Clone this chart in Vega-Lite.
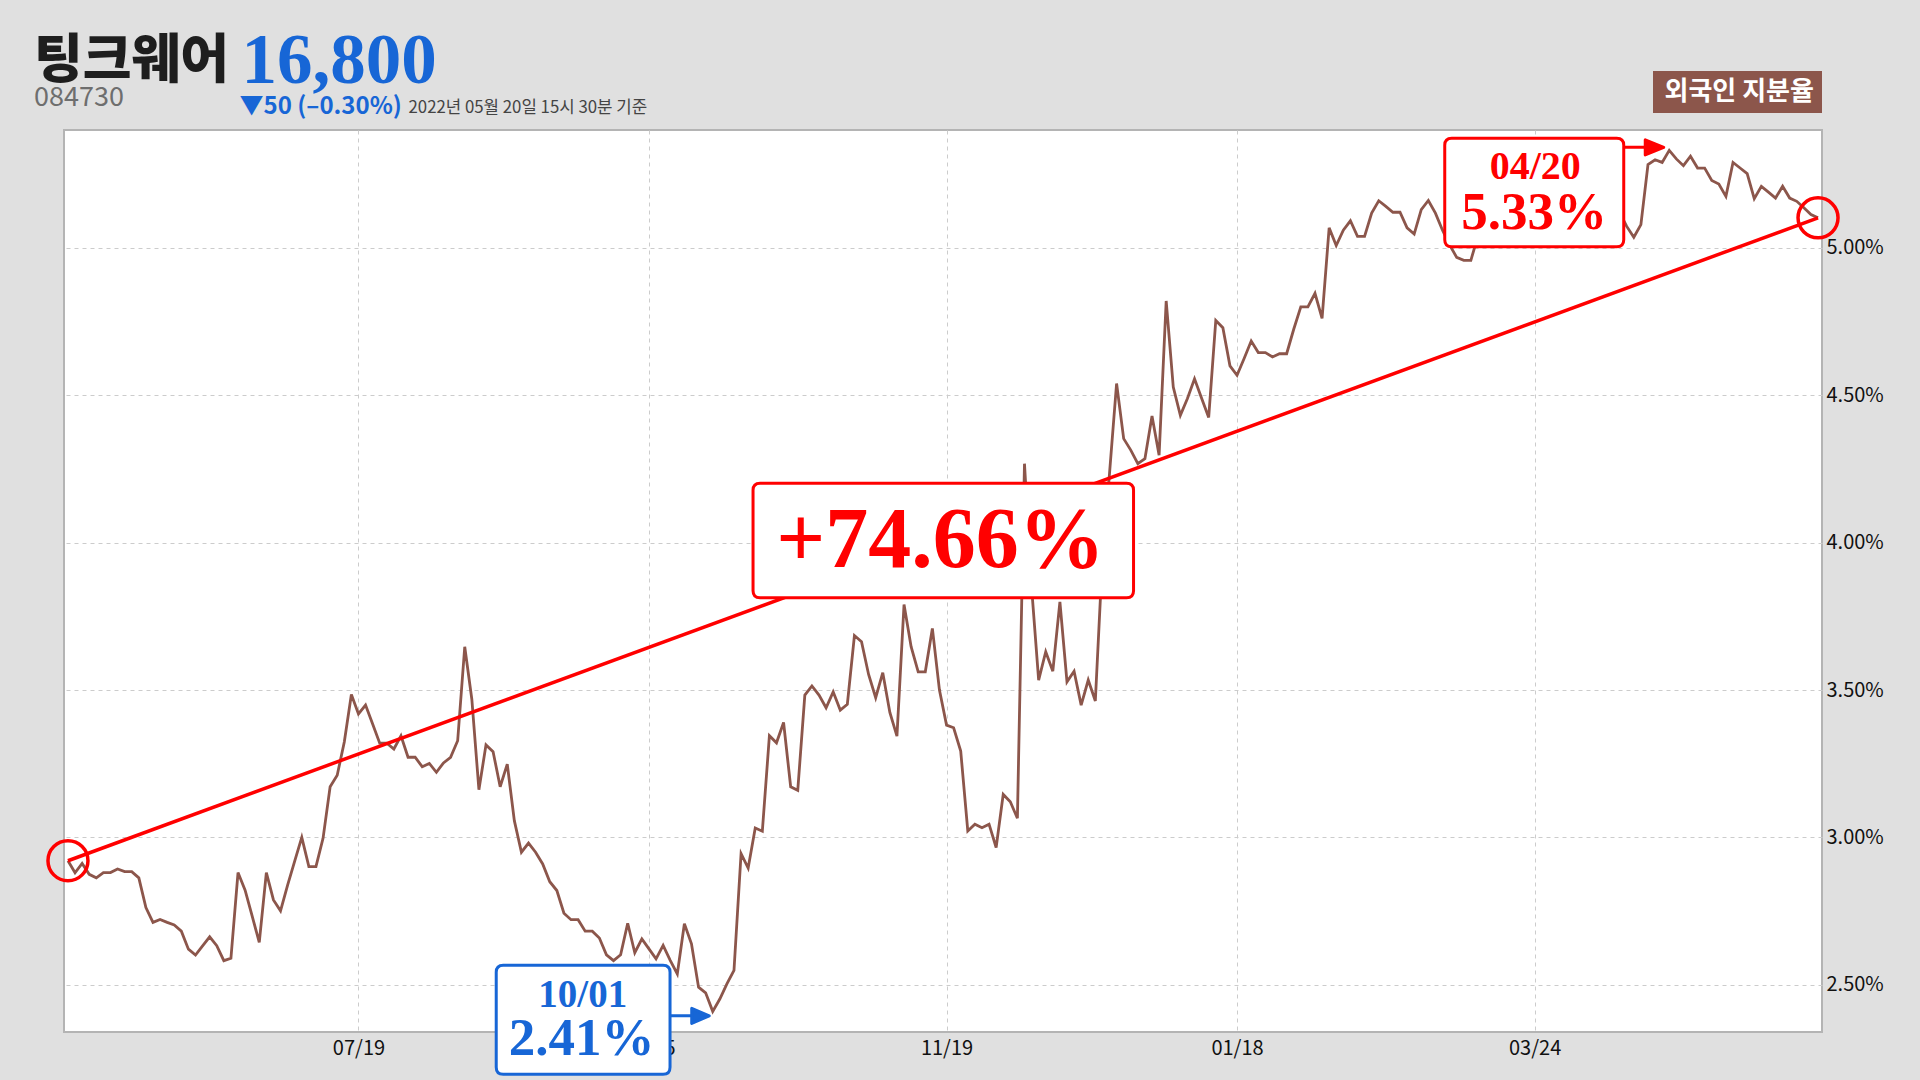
{
  "$schema": "https://vega.github.io/schema/vega-lite/v6.json",
  "width": 1758,
  "height": 902,
  "autosize": {"type": "none"},
  "padding": {"left": 64, "top": 130, "right": 98, "bottom": 48},
  "background": "#e0e0e0",
  "config": {"view": {"fill": "white", "stroke": "#b4b4b4", "strokeWidth": 2}},
  "title": {
    "text": "팅크웨어",
    "subtitle": "084730",
    "anchor": "start",
    "frame": "group",
    "orient": "top",
    "offset": 22,
    "dx": -30,
    "dy": 108,
    "font": "Noto Sans CJK KR",
    "fontSize": 53,
    "fontWeight": 900,
    "color": "#1e1e1e",
    "subtitleFont": "Noto Sans CJK KR",
    "subtitleFontSize": 27,
    "subtitleColor": "#6e6e6e",
    "subtitlePadding": -4
  },
  "datasets": {
    "fo": [
      {"d":"2021-05-21","v":2.921},{"d":"2021-05-24","v":2.880},{"d":"2021-05-25","v":2.912},{"d":"2021-05-26","v":2.875},{"d":"2021-05-27","v":2.863},{"d":"2021-05-28","v":2.881},{"d":"2021-05-31","v":2.881},
      {"d":"2021-06-01","v":2.893},{"d":"2021-06-02","v":2.884},{"d":"2021-06-03","v":2.884},{"d":"2021-06-04","v":2.863},{"d":"2021-06-07","v":2.762},{"d":"2021-06-08","v":2.712},{"d":"2021-06-09","v":2.722},{"d":"2021-06-10","v":2.712},{"d":"2021-06-11","v":2.703},{"d":"2021-06-14","v":2.682},{"d":"2021-06-15","v":2.621},{"d":"2021-06-16","v":2.601},{"d":"2021-06-17","v":2.632},{"d":"2021-06-18","v":2.663},{"d":"2021-06-21","v":2.633},{"d":"2021-06-22","v":2.582},{"d":"2021-06-23","v":2.590},{"d":"2021-06-24","v":2.881},{"d":"2021-06-25","v":2.821},{"d":"2021-06-28","v":2.733},{"d":"2021-06-29","v":2.644},{"d":"2021-06-30","v":2.881},
      {"d":"2021-07-01","v":2.788},{"d":"2021-07-02","v":2.751},{"d":"2021-07-05","v":2.838},{"d":"2021-07-06","v":2.920},{"d":"2021-07-07","v":3.000},{"d":"2021-07-08","v":2.901},{"d":"2021-07-09","v":2.901},{"d":"2021-07-12","v":2.997},{"d":"2021-07-13","v":3.172},{"d":"2021-07-14","v":3.211},{"d":"2021-07-15","v":3.324},{"d":"2021-07-16","v":3.485},{"d":"2021-07-19","v":3.419},{"d":"2021-07-20","v":3.449},{"d":"2021-07-21","v":3.385},{"d":"2021-07-22","v":3.320},{"d":"2021-07-23","v":3.320},{"d":"2021-07-26","v":3.300},{"d":"2021-07-27","v":3.345},{"d":"2021-07-28","v":3.272},{"d":"2021-07-29","v":3.272},{"d":"2021-07-30","v":3.240},
      {"d":"2021-08-02","v":3.251},{"d":"2021-08-03","v":3.221},{"d":"2021-08-04","v":3.253},{"d":"2021-08-05","v":3.272},{"d":"2021-08-06","v":3.328},{"d":"2021-08-09","v":3.647},{"d":"2021-08-10","v":3.469},{"d":"2021-08-11","v":3.162},{"d":"2021-08-12","v":3.314},{"d":"2021-08-13","v":3.291},{"d":"2021-08-17","v":3.172},{"d":"2021-08-18","v":3.249},{"d":"2021-08-19","v":3.057},{"d":"2021-08-20","v":2.950},{"d":"2021-08-23","v":2.981},{"d":"2021-08-24","v":2.950},{"d":"2021-08-25","v":2.910},{"d":"2021-08-26","v":2.850},{"d":"2021-08-27","v":2.820},{"d":"2021-08-30","v":2.743},{"d":"2021-08-31","v":2.721},
      {"d":"2021-09-01","v":2.721},{"d":"2021-09-02","v":2.682},{"d":"2021-09-03","v":2.682},{"d":"2021-09-06","v":2.659},{"d":"2021-09-07","v":2.602},{"d":"2021-09-08","v":2.582},{"d":"2021-09-09","v":2.602},{"d":"2021-09-10","v":2.709},{"d":"2021-09-13","v":2.609},{"d":"2021-09-14","v":2.656},{"d":"2021-09-15","v":2.622},{"d":"2021-09-16","v":2.588},{"d":"2021-09-17","v":2.634},{"d":"2021-09-23","v":2.583},{"d":"2021-09-24","v":2.537},{"d":"2021-09-27","v":2.707},{"d":"2021-09-28","v":2.639},{"d":"2021-09-29","v":2.492},{"d":"2021-09-30","v":2.473},
      {"d":"2021-10-01","v":2.410},{"d":"2021-10-05","v":2.452},{"d":"2021-10-06","v":2.503},{"d":"2021-10-07","v":2.549},{"d":"2021-10-08","v":2.945},{"d":"2021-10-12","v":2.896},{"d":"2021-10-13","v":3.032},{"d":"2021-10-14","v":3.021},{"d":"2021-10-15","v":3.345},{"d":"2021-10-18","v":3.321},{"d":"2021-10-19","v":3.390},{"d":"2021-10-20","v":3.172},{"d":"2021-10-21","v":3.160},{"d":"2021-10-22","v":3.483},{"d":"2021-10-25","v":3.514},{"d":"2021-10-26","v":3.483},{"d":"2021-10-27","v":3.440},{"d":"2021-10-28","v":3.494},{"d":"2021-10-29","v":3.432},
      {"d":"2021-11-01","v":3.452},{"d":"2021-11-02","v":3.685},{"d":"2021-11-03","v":3.664},{"d":"2021-11-04","v":3.553},{"d":"2021-11-05","v":3.474},{"d":"2021-11-08","v":3.559},{"d":"2021-11-09","v":3.424},{"d":"2021-11-10","v":3.344},{"d":"2021-11-11","v":3.790},{"d":"2021-11-12","v":3.647},{"d":"2021-11-15","v":3.562},{"d":"2021-11-16","v":3.562},{"d":"2021-11-17","v":3.709},{"d":"2021-11-18","v":3.500},{"d":"2021-11-19","v":3.381},{"d":"2021-11-22","v":3.372},{"d":"2021-11-23","v":3.293},{"d":"2021-11-24","v":3.022},{"d":"2021-11-25","v":3.045},{"d":"2021-11-26","v":3.033},{"d":"2021-11-29","v":3.045},{"d":"2021-11-30","v":2.966},
      {"d":"2021-12-01","v":3.146},{"d":"2021-12-02","v":3.121},{"d":"2021-12-03","v":3.065},{"d":"2021-12-06","v":4.268},{"d":"2021-12-07","v":3.850},{"d":"2021-12-08","v":3.534},{"d":"2021-12-09","v":3.630},{"d":"2021-12-10","v":3.564},{"d":"2021-12-13","v":3.799},{"d":"2021-12-14","v":3.528},{"d":"2021-12-15","v":3.564},{"d":"2021-12-16","v":3.449},{"d":"2021-12-17","v":3.534},{"d":"2021-12-20","v":3.463},{"d":"2021-12-21","v":3.950},{"d":"2021-12-22","v":4.234},{"d":"2021-12-23","v":4.540},{"d":"2021-12-24","v":4.353},{"d":"2021-12-27","v":4.314},{"d":"2021-12-28","v":4.268},{"d":"2021-12-29","v":4.285},{"d":"2021-12-30","v":4.430},
      {"d":"2022-01-03","v":4.297},{"d":"2022-01-04","v":4.820},{"d":"2022-01-05","v":4.528},{"d":"2022-01-06","v":4.432},{"d":"2022-01-07","v":4.489},{"d":"2022-01-10","v":4.556},{"d":"2022-01-11","v":4.490},{"d":"2022-01-12","v":4.425},{"d":"2022-01-13","v":4.754},{"d":"2022-01-14","v":4.729},{"d":"2022-01-17","v":4.600},{"d":"2022-01-18","v":4.568},{"d":"2022-01-19","v":4.625},{"d":"2022-01-20","v":4.684},{"d":"2022-01-21","v":4.645},{"d":"2022-01-24","v":4.645},{"d":"2022-01-25","v":4.630},{"d":"2022-01-26","v":4.641},{"d":"2022-01-27","v":4.641},{"d":"2022-01-28","v":4.724},
      {"d":"2022-02-03","v":4.800},{"d":"2022-02-04","v":4.800},{"d":"2022-02-07","v":4.846},{"d":"2022-02-08","v":4.761},{"d":"2022-02-09","v":5.068},{"d":"2022-02-10","v":5.008},{"d":"2022-02-11","v":5.060},{"d":"2022-02-14","v":5.092},{"d":"2022-02-15","v":5.039},{"d":"2022-02-16","v":5.039},{"d":"2022-02-17","v":5.118},{"d":"2022-02-18","v":5.160},{"d":"2022-02-21","v":5.141},{"d":"2022-02-22","v":5.121},{"d":"2022-02-23","v":5.121},{"d":"2022-02-24","v":5.068},{"d":"2022-02-25","v":5.047},{"d":"2022-02-28","v":5.130},
      {"d":"2022-03-02","v":5.161},{"d":"2022-03-03","v":5.118},{"d":"2022-03-04","v":5.060},{"d":"2022-03-07","v":5.010},{"d":"2022-03-08","v":4.968},{"d":"2022-03-10","v":4.958},{"d":"2022-03-11","v":4.958},{"d":"2022-03-14","v":5.040},{"d":"2022-03-15","v":5.100},{"d":"2022-03-16","v":5.140},{"d":"2022-03-17","v":5.120},{"d":"2022-03-18","v":5.180},{"d":"2022-03-21","v":5.150},{"d":"2022-03-22","v":5.200},{"d":"2022-03-23","v":5.170},{"d":"2022-03-24","v":5.130},{"d":"2022-03-25","v":5.160},{"d":"2022-03-28","v":5.190},{"d":"2022-03-29","v":5.220},{"d":"2022-03-30","v":5.180},{"d":"2022-03-31","v":5.150},
      {"d":"2022-04-01","v":5.120},{"d":"2022-04-04","v":5.160},{"d":"2022-04-05","v":5.140},{"d":"2022-04-06","v":5.100},{"d":"2022-04-07","v":5.130},{"d":"2022-04-08","v":5.150},{"d":"2022-04-11","v":5.120},{"d":"2022-04-12","v":5.073},{"d":"2022-04-13","v":5.036},{"d":"2022-04-14","v":5.079},{"d":"2022-04-15","v":5.283},{"d":"2022-04-18","v":5.299},{"d":"2022-04-19","v":5.290},{"d":"2022-04-20","v":5.331},{"d":"2022-04-21","v":5.302},{"d":"2022-04-22","v":5.279},{"d":"2022-04-25","v":5.311},{"d":"2022-04-26","v":5.271},{"d":"2022-04-27","v":5.271},{"d":"2022-04-28","v":5.229},{"d":"2022-04-29","v":5.217},
      {"d":"2022-05-02","v":5.175},{"d":"2022-05-03","v":5.290},{"d":"2022-05-04","v":5.271},{"d":"2022-05-06","v":5.252},{"d":"2022-05-09","v":5.167},{"d":"2022-05-10","v":5.209},{"d":"2022-05-11","v":5.189},{"d":"2022-05-12","v":5.169},{"d":"2022-05-13","v":5.209},{"d":"2022-05-16","v":5.169},{"d":"2022-05-17","v":5.158},{"d":"2022-05-18","v":5.136},{"d":"2022-05-19","v":5.113},{"d":"2022-05-20","v":5.102}
    ],
    "ann": [
      {"kind":"chg","d":"2021-11-19","v":4.0,"label":"+74.66%"},
      {"kind":"max","d":"2022-04-20","v":5.331,"label":"5.33%","date":"04/20"},
      {"kind":"min","d":"2021-10-01","v":2.41,"label":"2.41%","date":"10/01"}
    ]
  },
  "resolve": {"axis": {"x": "independent", "y": "independent"}, "scale": {"shape": "independent", "fill": "independent", "stroke": "independent"}},
  "layer": [
    {
      "data": {"name": "fo"},
      "mark": {"type": "line", "strokeWidth": 2.8},
      "encoding": {
        "x": {
          "field": "d", "type": "ordinal",
          "scale": {"type": "point", "padding": 0.56},
          "axis": {
            "orient": "bottom",
            "values": ["2021-07-19","2021-09-15","2021-11-19","2022-01-18","2022-03-24"],
            "labelExpr": "substring(datum.value,5,7)+'/'+substring(datum.value,8,10)",
            "labelAngle": 0, "labelFont": "Noto Sans CJK KR", "labelFontSize": 20, "labelColor": "#111111", "labelPadding": 6,
            "ticks": false, "domain": false,
            "grid": true, "gridColor": "#cccccc", "gridDash": [4, 4], "gridWidth": 1,
            "title": "16,800", "titleX": 177, "titleY": -950, "titleAlign": "left", "titleBaseline": "alphabetic", "titleAngle": 0,
            "titleFont": "Liberation Serif", "titleFontSize": 71, "titleFontWeight": "bold", "titleColor": "#1766d6"
          }
        },
        "y": {
          "field": "v", "type": "quantitative",
          "scale": {"domain": [2.34, 5.40], "nice": false, "zero": false},
          "axis": {
            "orient": "right",
            "values": [2.5, 3, 3.5, 4, 4.5, 5],
            "labelExpr": "format(datum.value,'.2f')+'%'",
            "labelFont": "Noto Sans CJK KR", "labelFontSize": 20, "labelColor": "#111111", "labelPadding": 4,
            "ticks": false, "domain": false,
            "grid": true, "gridColor": "#cccccc", "gridDash": [4, 4], "gridWidth": 1,
            "title": "▼50 (–0.30%)", "titleX": -1583, "titleY": -17, "titleAngle": 0, "titleAlign": "left", "titleBaseline": "alphabetic",
            "titleFont": "Noto Sans CJK KR", "titleFontSize": 24, "titleFontWeight": "bold", "titleColor": "#1766d6"
          }
        },
        "color": {
          "datum": "외국인 지분율", "type": "nominal",
          "scale": {"range": ["#8c564b"]},
          "legend": {
            "title": null, "orient": "none", "legendX": 1589, "legendY": -59,
            "fillColor": "#8c564b", "padding": 8, "cornerRadius": 0,
            "labelColor": "white", "labelFont": "Noto Sans CJK KR", "labelFontSize": 26, "labelFontWeight": "bold",
            "labelOffset": -22.5, "labelLimit": 400, "symbolSize": 0, "symbolStrokeWidth": 0, "symbolOpacity": 0
          }
        }
      }
    },
    {
      "data": {"name": "fo"},
      "transform": [{"filter": {"field": "d", "oneOf": ["2021-05-21", "2022-05-20"]}}],
      "mark": {"type": "line", "color": "#ff0000", "strokeWidth": 3.5},
      "encoding": {
        "x": {
          "field": "d", "type": "ordinal",
          "axis": {
            "orient": "top", "labels": false, "ticks": false, "domain": false, "grid": false,
            "title": "2022년 05월 20일 15시 30분 기준", "titleX": 344, "titleY": -18, "titleAlign": "left", "titleBaseline": "alphabetic", "titleAngle": 0,
            "titleFont": "Noto Sans CJK KR", "titleFontSize": 16.8, "titleFontWeight": "normal", "titleColor": "#444444"
          }
        },
        "y": {"field": "v", "type": "quantitative", "axis": null}
      }
    },
    {
      "data": {"name": "fo"},
      "transform": [{"filter": {"field": "d", "oneOf": ["2021-05-21", "2022-05-20"]}}],
      "mark": {"type": "point", "shape": "circle", "size": 1600, "filled": false, "stroke": "#ff0000", "strokeWidth": 3.5, "opacity": 1},
      "encoding": {
        "x": {"field": "d", "type": "ordinal", "axis": null},
        "y": {"field": "v", "type": "quantitative", "axis": null}
      }
    },
    {
      "data": {"name": "ann"},
      "mark": {"type": "point", "size": 4, "filled": true, "fill": "white", "strokeWidth": 3, "opacity": 1},
      "encoding": {
        "x": {"field": "d", "type": "ordinal", "axis": null},
        "y": {"field": "v", "type": "quantitative", "axis": null},
        "shape": {
          "field": "kind", "type": "nominal", "legend": null,
          "scale": {
            "domain": ["chg", "max", "min"],
            "range": [
              "M-186.5,-59.5H180Q187,-59.5 187,-52.5V48Q187,55 180,55H-186.5Q-193.5,55 -193.5,48V-52.5Q-193.5,-59.5 -186.5,-59.5Z",
              "M-217.5,-12H-52.5Q-45.5,-12 -45.5,-5V89.5Q-45.5,96.5 -52.5,96.5H-217.5Q-224.5,96.5 -224.5,89.5V-5Q-224.5,-12 -217.5,-12Z",
              "M-209.5,-46H-49.7Q-42.7,-46 -42.7,-39V56Q-42.7,63 -49.7,63H-209.5Q-216.5,63 -216.5,56V-39Q-216.5,-46 -209.5,-46Z"
            ]
          }
        },
        "stroke": {
          "field": "kind", "type": "nominal", "legend": null,
          "scale": {"domain": ["chg", "max", "min"], "range": ["#ff0000", "#ff0000", "#1766d6"]}
        }
      }
    },
    {
      "data": {"name": "ann"},
      "transform": [{"filter": "datum.kind != 'chg'"}],
      "mark": {"type": "point", "size": 4, "filled": true, "strokeWidth": 3, "strokeJoin": "round", "opacity": 1},
      "encoding": {
        "x": {"field": "d", "type": "ordinal", "axis": null},
        "y": {"field": "v", "type": "quantitative", "axis": null},
        "shape": {
          "field": "kind", "type": "nominal", "legend": null,
          "scale": {
            "domain": ["max", "min"],
            "range": [
              "M-45.5,-3H-24M-24,-10.5L-5.5,-3L-24,4.5Z",
              "M-42.7,4.5H-21M-21,-3L-3.5,4.5L-21,12Z"
            ]
          }
        },
        "stroke": {
          "field": "kind", "type": "nominal", "legend": null,
          "scale": {"domain": ["max", "min"], "range": ["#ff0000", "#1766d6"]}
        },
        "fill": {
          "field": "kind", "type": "nominal", "legend": null,
          "scale": {"domain": ["max", "min"], "range": ["#ff0000", "#1766d6"]}
        }
      }
    },
    {
      "data": {"name": "ann"},
      "transform": [{"filter": "datum.kind == 'chg'"}],
      "mark": {"type": "text", "align": "center", "baseline": "alphabetic", "dx": -6, "dy": 24, "font": "Liberation Serif", "fontSize": 86, "fontWeight": "bold", "color": "#ff0000"},
      "encoding": {
        "x": {"field": "d", "type": "ordinal", "axis": null},
        "y": {"field": "v", "type": "quantitative", "axis": null},
        "text": {"field": "label"}
      }
    },
    {
      "data": {"name": "ann"},
      "transform": [{"filter": "datum.kind == 'max'"}],
      "mark": {"type": "text", "align": "center", "baseline": "alphabetic", "dx": -134, "dy": 29, "font": "Liberation Serif", "fontSize": 40, "fontWeight": "bold", "color": "#ff0000"},
      "encoding": {
        "x": {"field": "d", "type": "ordinal", "axis": null},
        "y": {"field": "v", "type": "quantitative", "axis": null},
        "text": {"field": "date"}
      }
    },
    {
      "data": {"name": "ann"},
      "transform": [{"filter": "datum.kind == 'max'"}],
      "mark": {"type": "text", "align": "center", "baseline": "alphabetic", "dx": -135, "dy": 79, "font": "Liberation Serif", "fontSize": 53, "fontWeight": "bold", "color": "#ff0000"},
      "encoding": {
        "x": {"field": "d", "type": "ordinal", "axis": null},
        "y": {"field": "v", "type": "quantitative", "axis": null},
        "text": {"field": "label"}
      }
    },
    {
      "data": {"name": "ann"},
      "transform": [{"filter": "datum.kind == 'min'"}],
      "mark": {"type": "text", "align": "center", "baseline": "alphabetic", "dx": -130, "dy": -4.5, "font": "Liberation Serif", "fontSize": 39, "fontWeight": "bold", "color": "#1766d6"},
      "encoding": {
        "x": {"field": "d", "type": "ordinal", "axis": null},
        "y": {"field": "v", "type": "quantitative", "axis": null},
        "text": {"field": "date"}
      }
    },
    {
      "data": {"name": "ann"},
      "transform": [{"filter": "datum.kind == 'min'"}],
      "mark": {"type": "text", "align": "center", "baseline": "alphabetic", "dx": -131, "dy": 43.5, "font": "Liberation Serif", "fontSize": 53, "fontWeight": "bold", "color": "#1766d6"},
      "encoding": {
        "x": {"field": "d", "type": "ordinal", "axis": null},
        "y": {"field": "v", "type": "quantitative", "axis": null},
        "text": {"field": "label"}
      }
    }
  ]
}
